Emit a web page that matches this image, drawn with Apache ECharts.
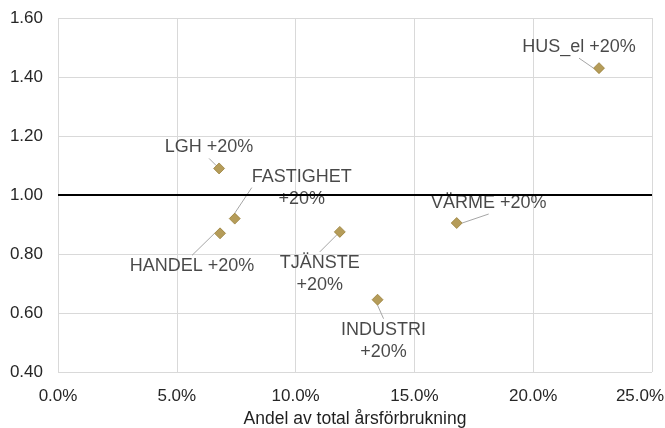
<!DOCTYPE html>
<html>
<head>
<meta charset="utf-8">
<script src="https://cdn.jsdelivr.net/npm/echarts@6/dist/echarts.min.js"></script>
<style>
  html, body { margin: 0; padding: 0; background: #fff; }
  #chart { width: 665px; height: 428px; }
</style>
</head>
<body>
<div id="chart"></div>
<script>
// Sectors: share of total annual consumption vs. factor at +20%
const sectors = ['HUS_el', 'LGH', 'FASTIGHET', 'HANDEL', 'TJÄNSTE', 'INDUSTRI', 'VÄRME'];
const sectorLabels = ['HUS_el +20%', 'LGH +20%', 'FASTIGHET\n+20%', 'HANDEL +20%', 'TJÄNSTE\n+20%', 'INDUSTRI\n+20%', 'VÄRME +20%'];
const shareOfTotal = [0.2277, 0.0678, 0.0744, 0.0682, 0.1186, 0.1345, 0.1678];
const factor = [1.43, 1.09, 0.92, 0.87, 0.875, 0.645, 0.905];
const referenceLevel = 1.0;

// Label offsets (px) from each marker to its label centre
const labelOffsets = [[-20, -21], [-10, -21], [67, -31], [-28, 33], [-20, 42], [6, 41], [32, -20]];

const points = sectors.map((s, i) => ({ name: s, value: [shareOfTotal[i], factor[i]] }));

const chart = echarts.init(document.getElementById('chart'), null, { renderer: 'canvas' });
const font = 'Liberation Sans, Arial, sans-serif';
const tickColor = '#262626';

chart.setOption({
  animation: false,
  backgroundColor: '#ffffff',
  grid: { left: 58, right: 13, top: 18, bottom: 56, containLabel: false, outerBoundsMode: 'none' },
  xAxis: {
    type: 'value',
    min: 0, max: 0.25, interval: 0.05,
    name: 'Andel av total årsförbrukning',
    nameLocation: 'middle',
    nameGap: 35,
    nameTextStyle: { fontFamily: font, fontSize: 17.5, color: '#1f1f1f' },
    axisLine: { show: false },
    axisTick: { show: false },
    splitLine: { show: true, lineStyle: { color: '#d9d9d9', width: 1 } },
    axisLabel: {
      fontFamily: font, fontSize: 17, color: tickColor, margin: 16,
      formatter: v => {
        const t = (v * 100).toFixed(1) + '%';
        return Math.abs(v - 0.25) < 1e-9 ? '{e|' + t + '}' : t;
      },
      rich: { e: { fontFamily: font, fontSize: 17, color: tickColor, padding: [0, 24, 0, 0] } }
    }
  },
  yAxis: {
    type: 'value',
    min: 0.4, max: 1.6, interval: 0.2,
    axisLine: { show: false },
    axisTick: { show: false },
    splitLine: { show: true, lineStyle: { color: '#d9d9d9', width: 1 } },
    axisLabel: {
      fontFamily: font, fontSize: 17, color: tickColor, margin: 15,
      formatter: v => v.toFixed(2)
    }
  },
  series: [{
    type: 'scatter',
    symbol: 'diamond',
    symbolSize: 11,
    itemStyle: { color: '#a3832f', borderColor: '#8c6f24', borderWidth: 0.8 },
    data: points,
    label: {
      show: true,
      position: 'inside',
      formatter: p => sectorLabels[p.dataIndex],
      fontFamily: font, fontSize: 18, color: '#1a1a1a',
      lineHeight: 22, align: 'center'
    },
    labelLine: { show: true, lineStyle: { color: '#a6a6a6', width: 1 } },
    labelLayout: p => ({ dx: labelOffsets[p.dataIndex][0], dy: labelOffsets[p.dataIndex][1] }),
    markLine: {
      silent: true,
      symbol: 'none',
      label: { show: false },
      lineStyle: { color: '#000000', width: 2, type: 'solid' },
      data: [{ yAxis: referenceLevel }]
    }
  }]
});
</script>
</body>
</html>
